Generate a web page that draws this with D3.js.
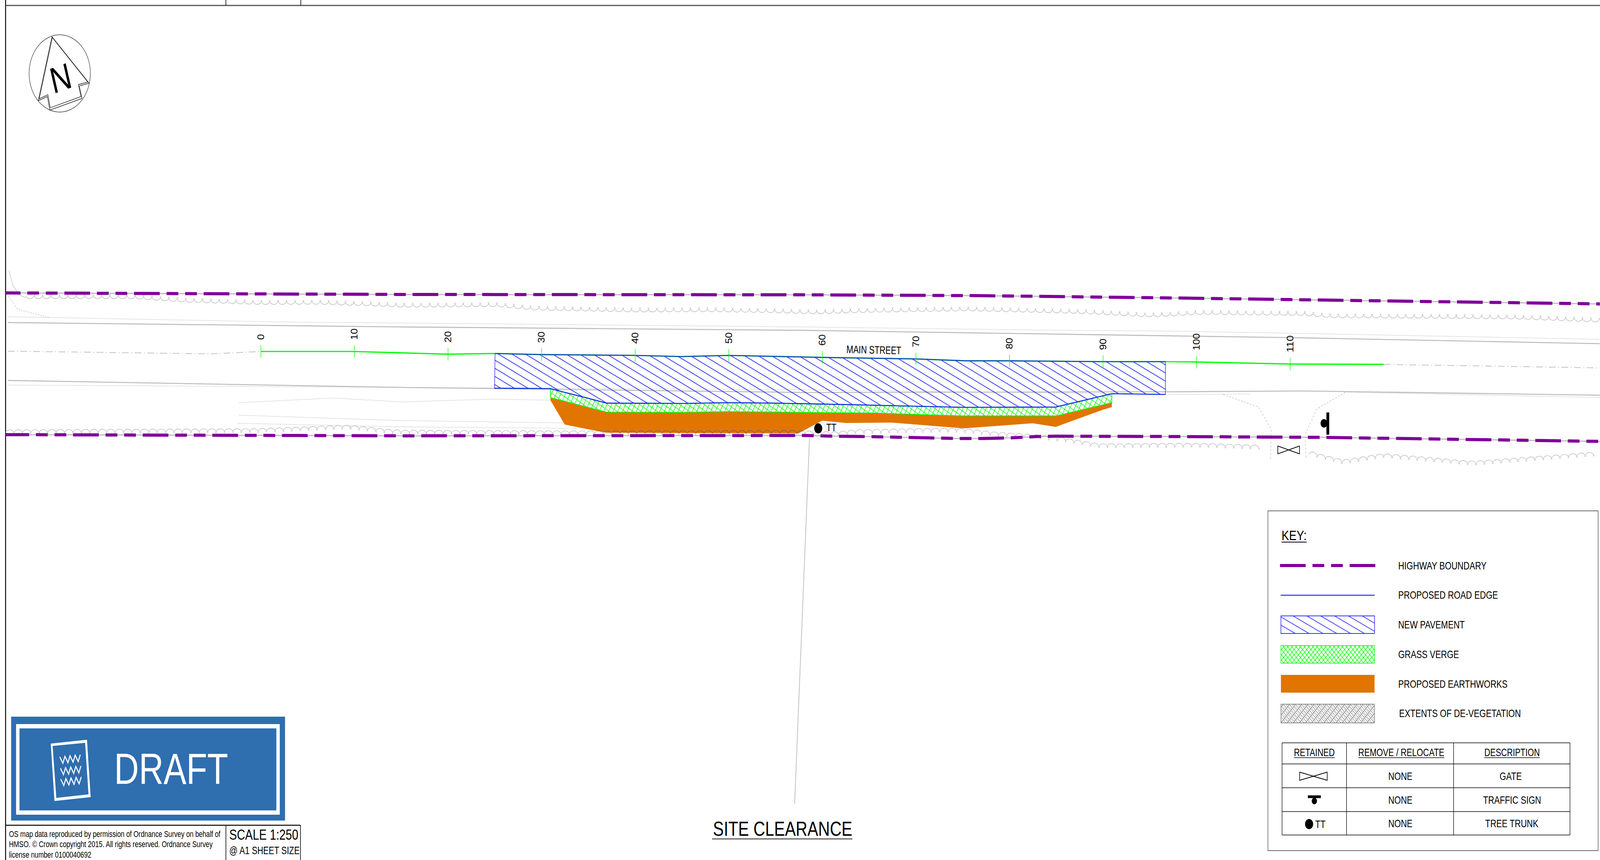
<!DOCTYPE html>
<html>
<head>
<meta charset="utf-8">
<title>Site clearance</title>
<script src="https://cdn.jsdelivr.net/npm/d3@7/dist/d3.min.js"></script>
<style>
    html, body { margin: 0; padding: 0; background: #fff; overflow: hidden; width: 100%; height: 100%; }
    svg { display: block; width: 100vw; height: 100vh; }
    text { font-family: "Liberation Sans", Arial, sans-serif; fill: #000; }
</style>
</head>
<body>
<svg id="sheet" viewBox="0 0 5170 2202" preserveAspectRatio="none"></svg>
<script>
// Everything below is [chainage m, offset m south of the setting out line]
const stations = [0, 10, 20, 30, 40, 50, 60, 70, 80, 90, 100, 110];
const stationOffsets = [0, 0, 0.23, 0.26, 0.33, 0.33, 0.5, 0.63, 0.79, 0.86, 0.89, 1.06];

const centreLine = [[0, 0], [10, 0], [20, 0.23], [25.03, 0.17], [30, 0.26], [40, 0.33], [45, 0.43], [50, 0.33], [60, 0.5], [70, 0.63], [75.4, 0.79], [80, 0.79], [90, 0.86], [97, 0.86], [100, 0.89], [110, 1.06], [120, 1.09]];
const centreWest = [[-27.05, -0.03], [-5.39, 0.2], [0, 0]];
const centreEast = [[120, 1.09], [143.09, 1.39]];

const kerbNorth = [[-27.05, -2.45], [15.11, -2.08], [58.1, -1.79], [97.78, -1.32], [111, -1.16], [143.09, -0.66]];
const backNorth = [[-27.05, -2.94], [-22.59, -2.88], [3.54, -2.48], [15.11, -2.41], [58.1, -2.08], [82.21, -1.82], [97.78, -1.72], [110.02, -1.55], [143.09, -1.03]];
const kerbSouth = [[-27.05, 2.45], [15.11, 3.04], [25.03, 3.14], [58.1, 3.47], [97.78, 3.41], [111.34, 3.34], [143.09, 3.7]];
const backSouthA = [[-27.05, 2.84], [15.11, 3.04], [25.03, 3.08], [58.1, 3.24], [97.45, 3.64], [105.72, 3.6]];
const backSouthB = [[115.87, 3.44], [143.09, 3.9]];

const boundaryNorth = [[-27.28, -4.96], [15.11, -4.83], [58.1, -4.8], [76.72, -4.73], [97.78, -4.53], [143.09, -4.03]];
const boundarySouth = [[-27.28, 7.04], [15.11, 7.14], [58.1, 7.11], [61.41, 7.17], [64.72, 7.2], [74.64, 7.37], [76.95, 7.37], [80.26, 7.31], [82.9, 7.2], [84.89, 7.17], [97.78, 7.2], [113.33, 7.27], [143.09, 7.61]];

const hedgeNorth = [[-25.13, -4.7], [-13.66, -4.7], [-8.04, -4.4], [0.23, -4.2], [6.12, -4.23], [13.79, -4.03], [15.11, -3.97], [25.26, -4.03], [29, -3.74], [39.91, -3.57], [48.18, -3.6], [54.8, -3.51], [59.42, -3.41], [64.72, -3.54], [75.63, -3.67], [87.86, -3.44], [94.97, -3.14], [97.78, -3.24], [100.1, -3.37], [111.67, -3.27], [114.32, -3.08], [124.9, -3.04], [134.16, -2.98], [143.09, -2.71]];
const hedgeSouth = [[-27.28, 6.85], [-0.17, 6.75], [9.33, 6.45], [14.12, 6.85], [15.11, 6.88], [34.95, 6.94], [57.44, 6.91], [61.41, 7.04], [63.39, 6.85], [72.65, 6.71], [75.3, 6.75], [77.94, 7.01], [82.9, 7.27], [85.88, 7.54], [89.52, 8.04], [97.78, 8], [100.76, 8], [107.37, 8.17]];
const hedgeEast = [[112, 8.66], [115.64, 9.42], [119.94, 8.86], [129.53, 9.52], [143.09, 8.7]];
const hedgeCorner = [[-26.92, -6.85], [-26.52, -5.62], [-25.83, -4.79], [-25.13, -4.56]];

const accessWest = [[-27.18, -4.86], [-25.96, -3.57], [-22.65, -2.88]];
const gateRoadLeft = [[102.84, 3.64], [106.61, 4.7], [107.97, 6.61], [107.9, 9.09]];
const gateRoadRight = [[115.87, 3.47], [112.86, 4.86], [111.61, 7.01], [111.67, 9.03]];
const vergeLines = [
    [[-2.28, 4.33], [7.77, 3.94], [15.11, 4.27], [24.97, 4.03], [31.02, 4.13], [36.94, 4.63], [58.1, 4.96]],
    [[-2.31, 5.39], [15.11, 5.85], [32.37, 6.05]],
    [[-2.45, 6.08], [15.11, 6.38], [34.29, 6.51]],
    [[59.99, 5.85], [60.55, 6.71]],
    [[58.43, 6.61], [59.75, 7.44]]
];

const pavementArea = [[25.03, 0.17], [30, 0.26], [40, 0.33], [45, 0.43], [50, 0.33], [60, 0.5], [70, 0.63], [75.4, 0.79], [80, 0.79], [90, 0.86], [96.66, 0.86], [96.66, 3.64], [90.94, 3.57], [84.95, 4.7], [75.1, 4.73], [63.03, 4.5], [54.8, 4.37], [49.93, 4.33], [45.27, 4.4], [36.94, 4.37], [34.52, 3.87], [32.04, 3.37], [30.92, 3.14], [24.97, 3.11]];
const roadEdgeNorth = pavementArea.slice(0, 11);
const roadEdgeSouth = pavementArea.slice(11);
const grassArea = [[30.92, 3.14], [32.04, 3.37], [34.52, 3.87], [36.94, 4.37], [45.27, 4.4], [49.93, 4.33], [54.8, 4.37], [63.03, 4.5], [75.1, 4.73], [84.95, 4.7], [90.94, 3.57], [90.94, 4.33], [84.95, 5.46], [75.1, 5.46], [65.77, 5.22], [58.1, 5.16], [49.93, 5.09], [44.71, 5.16], [36.94, 5.13], [30.95, 3.9]];
const earthworksArea = [[30.95, 3.9], [36.94, 5.13], [44.71, 5.16], [49.93, 5.09], [58.1, 5.16], [65.77, 5.22], [75.1, 5.46], [84.95, 5.46], [90.94, 4.33], [90.94, 4.7], [89.88, 4.96], [84.95, 6.38], [82.47, 6.08], [75.1, 6.51], [67.39, 6.02], [62.47, 6.05], [59.99, 5.85], [57.44, 6.94], [36.94, 6.88], [34.95, 6.58], [32.47, 6.18], [30.95, 4.13]];

const treeTrunk = [59.56, 6.51];
const leaderLine = [[58.63, 7.31], [57.04, 38.29]];

const legendLabels = ["HIGHWAY BOUNDARY", "PROPOSED ROAD EDGE", "NEW PAVEMENT", "GRASS VERGE", "PROPOSED EARTHWORKS", "EXTENTS OF DE-VEGETATION"];
const tableHeaders = ["RETAINED", "REMOVE / RELOCATE", "DESCRIPTION"];
const tableRemove = ["NONE", "NONE", "NONE"];
const tableDescription = ["GATE", "TRAFFIC SIGN", "TREE TRUNK"];
const noteLines = [
    "OS map data reproduced by permission of Ordnance Survey on behalf of",
    "HMSO. \u00A9 Crown copyright 2015. All rights reserved. Ordnance Survey",
    "license number 0100040692"
];

const GREY = "#bdbdbd";
const PURPLE = "#80009a";
const BLUE = "#0000ff";
const GREEN = "#00ff00";
const ORANGE = "#e17500";
const DRAFT_BLUE = "#2f6eaf";
const BOUNDARY_DASH = "83,22,38,22,38,22";

const svg = d3.select("#sheet");
const defs = svg.append("defs");

// 1:250 on the A1 sheet comes out at 30.24 px per metre
const x = d3.scaleLinear().domain([0, 110]).range([843, 4169]);
const y = d3.scaleLinear().domain([0, 10]).range([900, 1202.4]);
const line = d3.line().x(d => x(d[0])).y(d => y(d[1]));
const area = pts => line(pts) + "Z";

function hatchPattern(id, spacing, angle, px, py, color, width) {
    const p = defs.append("pattern").attr("id", id)
        .attr("patternUnits", "userSpaceOnUse")
        .attr("width", spacing).attr("height", spacing)
        .attr("patternTransform", `translate(${px},${py}) rotate(${angle}) translate(0,${-spacing / 2})`);
    p.append("line").attr("x1", 0).attr("x2", spacing)
        .attr("y1", spacing / 2).attr("y2", spacing / 2)
        .attr("stroke", color).attr("stroke-width", width);
    return p;
}

function crossPattern(id, spacing, angle, color, width) {
    const p = defs.append("pattern").attr("id", id)
        .attr("patternUnits", "userSpaceOnUse")
        .attr("width", spacing).attr("height", spacing)
        .attr("patternTransform", `rotate(${angle})`);
    p.append("path")
        .attr("d", `M0,${spacing / 2}H${spacing}M${spacing / 2},0V${spacing}`)
        .attr("stroke", color).attr("stroke-width", width).attr("fill", "none");
}

hatchPattern("pavementHatch", 18.85, 25.55, 1960, 1032, BLUE, 1.6);
hatchPattern("pavementKey", 18.9, 25, 4178.7, 1577.3, BLUE, 1.5);
crossPattern("grassHatch", 13, 30, GREEN, 1.6);
crossPattern("grassKey", 9.6, 45, GREEN, 1.6);

const deveg = hatchPattern("devegKey", 14, -45, 4139, 1851, "#666", 1.8);
deveg.append("path").attr("d", "M2,2.5H6M9,2.5H13M2,11.5H6M9,11.5H13")
    .attr("stroke", "#666").attr("stroke-width", 1.6);

// scalloped tree line: arcs of equal chord walked along a polyline
function scallop(pts, bulgeDown, chord = 27.2) {
    const px = pts.map(p => [x(p[0]), y(p[1])]);
    const cusps = [px[0]];
    let left = chord;
    d3.pairs(px).forEach(([a, b]) => {
        const len = Math.hypot(b[0] - a[0], b[1] - a[1]);
        let run = left;
        while (run <= len) {
            cusps.push([a[0] + (b[0] - a[0]) * run / len, a[1] + (b[1] - a[1]) * run / len]);
            run += chord;
        }
        left = run - len;
    });
    const tail = bulgeDown ? -4 : 4;
    let d = "";
    d3.pairs(cusps).forEach(([a, b]) => {
        d += `M${a[0]},${a[1]}A17,17 0 0 ${bulgeDown ? 0 : 1} ${b[0]},${b[1]}`;
        d += `M${b[0] - 2},${b[1] + tail}L${b[0]},${b[1]}L${b[0] + 2},${b[1] + tail}`;
    });
    return d;
}

function stroke(d, color, width, dash) {
    return svg.append("path").attr("d", d).attr("fill", "none")
        .attr("stroke", color).attr("stroke-width", width)
        .attr("stroke-dasharray", dash || null);
}

// textLength keeps the CAD text widths from the sheet
function label(text, tx, ty, size, opts = {}) {
    const t = svg.append("text").attr("x", tx).attr("y", ty)
        .attr("font-size", size)
        .attr("text-anchor", opts.anchor || "start")
        .text(text);
    if (opts.middle) t.attr("dominant-baseline", "central");
    if (opts.length) t.attr("textLength", opts.length).attr("lengthAdjust", "spacingAndGlyphs");
    if (opts.rotate) t.attr("transform", `rotate(${opts.rotate},${tx},${ty})`);
    return t;
}

function rule(x1, y1, x2, y2, width = 2, color = "#000") {
    svg.append("line").attr("x1", x1).attr("y1", y1).attr("x2", x2).attr("y2", y2)
        .attr("stroke", color).attr("stroke-width", width);
}

// sheet frame
rule(18, 0, 18, 2202, 3);
rule(18, 14, 5170, 14, 3, "#555");
rule(730, 0, 730, 14, 2);
rule(972, 0, 972, 14, 2);

// north point
const northArrow = [[168, 94], [288, 213], [256, 220], [265, 252], [161, 282], [153, 247], [123.5, 258]];
svg.append("circle").attr("cx", 193).attr("cy", 188).attr("r", 99)
    .attr("fill", "none").attr("stroke", "#444").attr("stroke-width", 1.6);
const northPath = "M" + northArrow.join("L") + "Z";
stroke(northPath, "#222", 1.6);
stroke(northPath, "#222", 1.6).attr("transform", "translate(193,188) scale(0.955) translate(-193,-190)");
label("N", 0, 0, 94, { anchor: "middle" })
    .attr("dy", "0.358em")
    .attr("transform", "translate(195.5,199) rotate(-16)");

// existing features
stroke(line(kerbNorth), GREY, 2.6);
stroke(line(kerbSouth), GREY, 2.6);
stroke(line(backNorth), GREY, 2, "2,3");
stroke(line(backSouthA), GREY, 2, "2,3");
stroke(line(backSouthB), GREY, 2, "2,3");
vergeLines.forEach(v => stroke(line(v), GREY, 2, "2,3"));
stroke(line(accessWest), GREY, 1.5, "4,4");
stroke(line(gateRoadLeft), GREY, 1.5, "5,5");
stroke(line(gateRoadRight), GREY, 1.5, "5,5");
stroke(line(centreWest), "#c8c8c8", 2.2, "22,8,3,8");
stroke(line(centreEast), "#c8c8c8", 2.2, "22,8,3,8");

stroke(scallop(hedgeNorth, true), "#c4c4c4", 1.7);
stroke(scallop(hedgeSouth, false), "#c4c4c4", 1.7);
stroke(scallop(hedgeEast, false), "#c4c4c4", 1.7);
stroke(line(hedgeCorner), GREY, 1.5);

// proposed works
svg.append("path").attr("d", area(earthworksArea)).attr("fill", ORANGE);
defs.append("clipPath").attr("id", "earthClip").append("path").attr("d", area(earthworksArea));
stroke(scallop(hedgeSouth, false), "#6a6a6a", 1.7).attr("clip-path", "url(#earthClip)");

svg.append("path").attr("d", area(grassArea)).attr("fill", "url(#grassHatch)")
    .attr("stroke", GREEN).attr("stroke-width", 2);
stroke(line(centreLine), GREEN, 3.2);
svg.append("path").attr("d", area(pavementArea)).attr("fill", "url(#pavementHatch)")
    .attr("stroke", BLUE).attr("stroke-width", 1.4);
stroke(line(roadEdgeNorth), "#1545c8", 2.6);
stroke(line(roadEdgeSouth), "#1030e0", 2.6);

// boundary on top, thin grey run under the purple dashes
stroke(line(boundaryNorth), GREY, 3);
stroke(line(boundarySouth), GREY, 3);
stroke(line(boundaryNorth), PURPLE, 8, BOUNDARY_DASH).attr("stroke-dashoffset", 35);
stroke(line(boundarySouth), PURPLE, 8, BOUNDARY_DASH).attr("stroke-dashoffset", 7);

// chainage ticks and labels
stations.forEach((s, i) => {
    const tx = x(s);
    const ty = y(stationOffsets[i]);
    rule(tx, ty - 16, tx, ty + 16, 1.6, GREEN);
    label(String(s), tx, ty - 30, 30, { length: String(s).length * 14.5 })
        .attr("dominant-baseline", "central")
        .attr("transform", `rotate(-90,${tx},${ty - 30})`);
});

label("MAIN STREET", 2735, 904, 28, { length: 177, rotate: 1 });

// retained items on the plan
stroke(line(leaderLine), "#b5b5b5", 2);
svg.append("circle").attr("cx", x(treeTrunk[0])).attr("cy", y(treeTrunk[1])).attr("r", 13);
label("TT", x(treeTrunk[0]) + 26, y(treeTrunk[1]) - 2, 27, { middle: true });

function gateSymbol(cx, cy, w, h) {
    const hw = w / 2, hh = h / 2;
    stroke(`M${cx - hw},${cy - hh}L${cx + hw},${cy + hh}L${cx + hw},${cy - hh}L${cx - hw},${cy + hh}Z`, "#000", 2);
}
gateSymbol(4164, 1152, 70, 20);
svg.append("rect").attr("x", 4286).attr("y", 1056).attr("width", 9).attr("height", 57);
svg.append("circle").attr("cx", 4278).attr("cy", 1084).attr("r", 11);

// SITE CLEARANCE title
label("SITE CLEARANCE", 2304, 2140, 51, { length: 450 });
rule(2301, 2148, 2754, 2148, 2.4, "#444");

// DRAFT stamp
svg.append("rect").attr("x", 36).attr("y", 1835).attr("width", 885).attr("height", 266).attr("fill", DRAFT_BLUE);
svg.append("rect").attr("x", 57.5).attr("y", 1859.5).attr("width", 841).attr("height", 221)
    .attr("fill", "none").attr("stroke", "#fff").attr("stroke-width", 11);
svg.append("path")
    .attr("d", "M164,1904L281,1894L293,2041L176,2051ZM170,1910L182,2043L286,2034L275,1902Z")
    .attr("fill", "#fff").attr("fill-rule", "evenodd");
[[194, 1946], [196, 1975], [197, 2003]].forEach(([zx, zy]) => {
    const zig = d3.range(9).map(i => [i * 8.3, i % 2 ? 9 : -8]);
    svg.append("path").attr("d", d3.line()(zig))
        .attr("transform", `translate(${zx},${zy}) rotate(-5)`)
        .attr("fill", "none").attr("stroke", "#fff").attr("stroke-width", 3.2)
        .attr("stroke-miterlimit", 3);
});
label("DRAFT", 369, 2007, 112, { length: 368 }).style("fill", "#fff");

// notes and scale box
rule(18, 2113, 971, 2113, 2.4);
rule(730, 2113, 730, 2202, 2);
rule(971, 2113, 971, 2202, 2);
const noteWidths = [683, 658, 266];
noteLines.forEach((n, i) => label(n, 29, 2143 + i * 26.5, 21.5, { length: noteWidths[i] }));
label("SCALE 1:250", 741, 2150, 37, { length: 223 });
label("@ A1 SHEET SIZE", 741, 2187, 27, { length: 227 });

// KEY panel
svg.append("rect").attr("x", 4097).attr("y", 1308).attr("width", 1067).attr("height", 870)
    .attr("fill", "#fff").attr("stroke", "#444").attr("stroke-width", 1.6);
label("KEY:", 4141, 1383, 36, { length: 81 });
rule(4141, 1388, 4222, 1388, 2);

const legendY = [1449, 1524, 1600, 1676, 1752, 1827];
legendLabels.forEach((l, i) => label(l, i === 5 ? 4521 : 4518, legendY[i], 27, { middle: true }));

svg.append("line").attr("x1", 4136).attr("x2", 4446).attr("y1", 1448).attr("y2", 1448)
    .attr("stroke", PURPLE).attr("stroke-width", 8).attr("stroke-dasharray", "83,22,38,22,38,22,83");
rule(4138, 1524, 4442, 1524, 2, BLUE);

const swatch = (y0, h, fill, edge) => svg.append("rect")
    .attr("x", 4139).attr("y", y0).attr("width", 302.5).attr("height", h)
    .attr("fill", fill).attr("stroke", edge).attr("stroke-width", edge === "none" ? 0 : 1.6);
swatch(1577, 45, "url(#pavementKey)", BLUE);
swatch(1653, 45, "url(#grassKey)", GREEN);
swatch(1728, 45.5, ORANGE, "none");
swatch(1803, 48, "url(#devegKey)", "#777");

// retained / remove table
const colX = [4142.6, 4351, 4697, 5073];
const rowY = [1902, 1956, 2017, 2078, 2138];
colX.forEach(cx => rule(cx, rowY[0], cx, rowY[4], 1.6));
rowY.forEach(ry => rule(colX[0], ry, colX[3], ry, 1.6));

const headerX = [4247, 4528, 4886];
const headerWidths = [132, 278, 179];
tableHeaders.forEach((h, i) => {
    label(h, headerX[i], 1927, 27, { anchor: "middle", middle: true, length: headerWidths[i] });
    rule(headerX[i] - headerWidths[i] / 2, 1940, headerX[i] + headerWidths[i] / 2, 1940, 1.6);
});

const rowCentre = [1988, 2049, 2109];
const descX = [4881.5, 4886, 4885];
tableRemove.forEach((t, i) => label(t, 4525, rowCentre[i], 27, { anchor: "middle", middle: true }));
tableDescription.forEach((t, i) => label(t, descX[i], rowCentre[i], 27, { anchor: "middle", middle: true }));

gateSymbol(4244, 1987.5, 89, 21);
svg.append("rect").attr("x", 4226).attr("y", 2036.5).attr("width", 42).attr("height", 7);
svg.append("circle").attr("cx", 4247).attr("cy", 2051).attr("r", 8.5);
svg.append("circle").attr("cx", 4230).attr("cy", 2110).attr("r", 13);
label("TT", 4250, 2111, 27, { middle: true });
</script>
</body>
</html>
